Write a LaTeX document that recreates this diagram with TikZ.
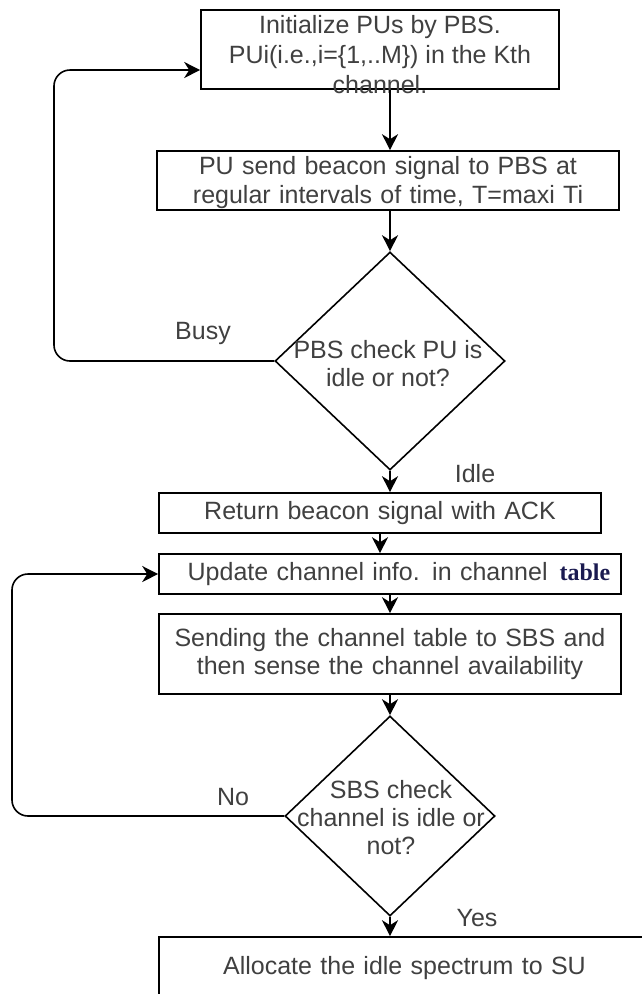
\documentclass[tikz,border=0pt]{standalone}
\usepackage{fontspec}
\setmainfont{Liberation Sans}
\newfontfamily\serifb{Liberation Serif}
\usetikzlibrary{shapes.geometric,arrows.meta}
\definecolor{txt}{HTML}{404040}
\definecolor{navy}{HTML}{1A1A50}
\begin{document}
\begin{tikzpicture}[x=1pt,y=-1pt,
  box/.style={draw=black,line width=1.6pt,rectangle,inner sep=0pt,align=center,text=txt,font=\fontsize{25}{28}\selectfont},
  dia/.style={draw=black,line width=1.6pt,diamond,inner sep=0pt},
  lbl/.style={text=txt,font=\fontsize{25}{28}\selectfont,inner sep=0pt,align=center},
  arr/.style={line width=1.6pt,-{Stealth[length=16pt,width=16pt,inset=5pt]},rounded corners=16pt}]
\useasboundingbox (0,0) rectangle (642,994);
\clip (0,0) rectangle (642,994);
\node[box,minimum width=358pt,minimum height=79pt] (b1) at (380,49.5) {};
\node[lbl,font=\fontsize{25}{30}\selectfont] (t0) at (380,55) {Initialize PUs by PBS.\\PUi(i.e.,i=\{1,..M\}) in the Kth\\channel.};
\node[box,minimum width=462pt,minimum height=59pt,text width=455pt,font=\fontsize{25}{29}\selectfont] (b2) at (388,180.5) {\rule{0pt}{22pt}PU send beacon signal to PBS at\\regular intervals of time, T=maxi Ti};
\node[dia,minimum width=230pt,minimum height=218pt] (d1) at (390,361) {};
\node[lbl] (t1) at (388,364) {PBS check PU is\\idle or not?};
\node[box,minimum width=442pt,minimum height=40pt,text width=435pt] (b3) at (380,513) {Return beacon signal with ACK};
\node[box,minimum width=462pt,minimum height=40pt,text width=455pt] (b4) at (390,574) {\hspace*{18pt}Update channel info. in channel\hspace{12pt}{\serifb\bfseries\fontsize{24}{28}\selectfont\color{navy}table}};
\node[box,minimum width=462pt,minimum height=80pt,text width=455pt] (b5) at (390,654) {Sending the channel table to SBS and\\then sense the channel availability};
\node[dia,minimum width=210pt,minimum height=200pt] (d2) at (390,816) {};
\node[lbl] (t2) at (391,818) {SBS check\\channel is idle or\\not?};
\node[box,minimum width=491pt,minimum height=62pt,text width=480pt] (b6) at (404.5,968) {Allocate the idle spectrum to SU};
\coordinate (c) at (390,0);
\coordinate (e1) at (54,70);
\coordinate (e2) at (12,574);
\draw[arr] (b1.south -| c) -- (b2.north -| c);
\draw[arr] (b2.south -| c) -- (d1.north);
\draw[arr] (d1.south) -- (b3.north -| c);
\draw[arr] (b3.south) -- (b4.north -| b3.south);
\draw[arr] (b4.south -| c) -- (b5.north -| c);
\draw[arr] (b5.south -| c) -- (d2.north);
\draw[arr] (d2.south) -- (b6.north -| c);
\draw[arr] (d1.west) -| (e1) -- (e1 -| b1.west);
\draw[arr] (d2.west) -| (e2) -- (b4.west);
\node[lbl] (busy) at (203,333) {Busy};
\node[lbl] (idle) at (475,474) {Idle};
\node[lbl] (no) at (233,797) {No};
\node[lbl] (yes) at (477,918) {Yes};
\end{tikzpicture}
\end{document}
